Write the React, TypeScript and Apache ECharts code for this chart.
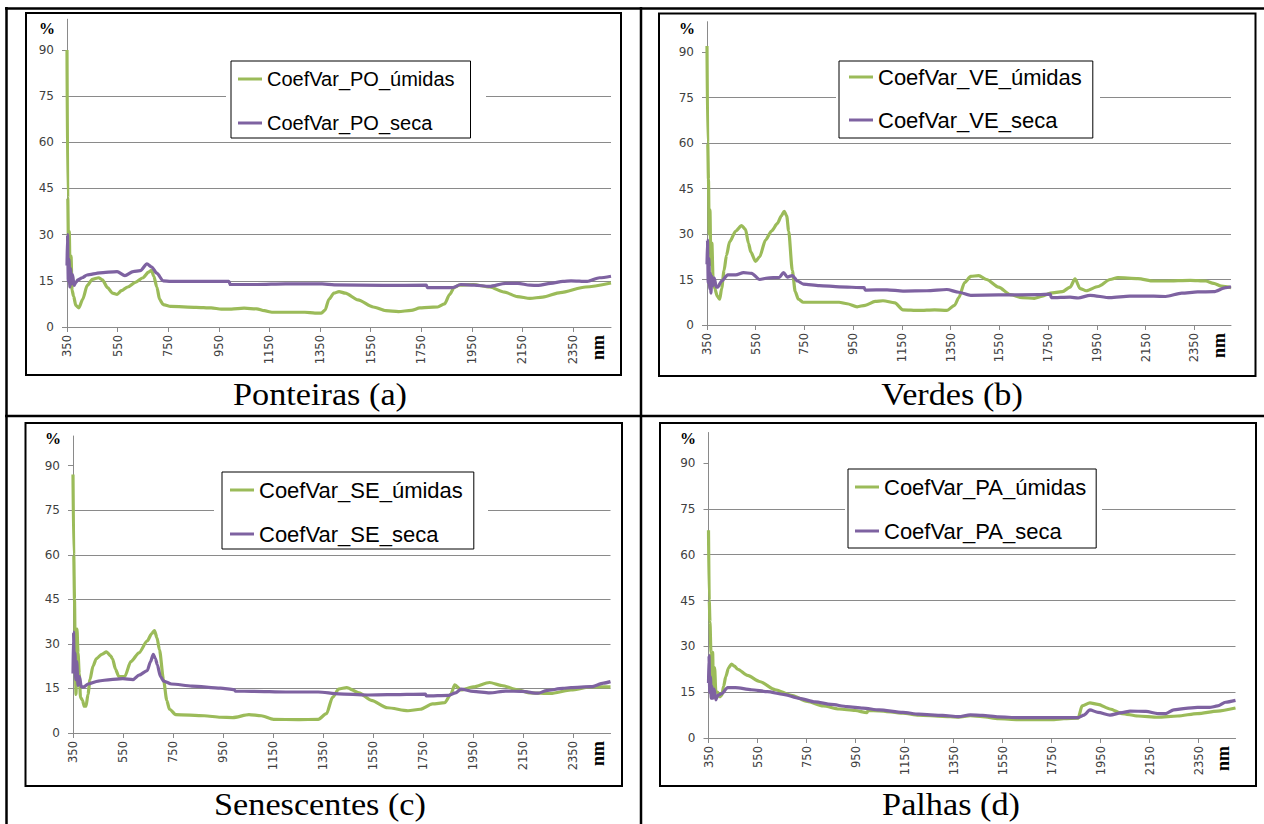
import React, { useEffect, useRef } from 'react';
import * as echarts from 'echarts';

const xTickValues = [350, 550, 750, 950, 1150, 1350, 1550, 1750, 1950, 2150, 2350];
const xUnitLabelAt = 2450;
const yTickValues = [0, 15, 30, 45, 60, 75, 90];
const captions = ['Ponteiras (a)', 'Verdes (b)', 'Senescentes (c)', 'Palhas (d)'];
const umidasNames = ['CoefVar_PO_úmidas', 'CoefVar_VE_úmidas', 'CoefVar_SE_úmidas', 'CoefVar_PA_úmidas'];
const secaNames = ['CoefVar_PO_seca', 'CoefVar_VE_seca', 'CoefVar_SE_seca', 'CoefVar_PA_seca'];

const poUmidas = [[350, 90], [353, 42], [356, 25], [359, 31], [362, 18], [366, 23], [370, 12], [376, 10], [385, 7], [397, 6.2], [412, 9], [430, 13.5], [450, 15.5], [475, 16], [490, 15.3], [510, 12.8], [530, 11], [548, 10.6], [565, 11.8], [590, 13], [620, 14.5], [650, 16], [672, 17.8], [684, 18.4], [693, 16.5], [705, 13], [716, 9], [730, 7.3], [760, 6.7], [860, 6.4], [920, 6.2], [960, 5.8], [1000, 5.8], [1050, 6.1], [1100, 5.9], [1130, 5.3], [1160, 4.8], [1220, 4.8], [1290, 4.8], [1330, 4.5], [1355, 4.5], [1370, 5.5], [1385, 9], [1405, 11], [1425, 11.5], [1450, 11], [1500, 8.8], [1560, 6.5], [1610, 5.3], [1660, 5], [1710, 5.4], [1745, 6.2], [1780, 6.4], [1815, 6.5], [1842, 7.5], [1862, 10.5], [1880, 12.8], [1900, 13.6], [1955, 13.8], [2020, 13], [2080, 11.3], [2130, 9.9], [2180, 9.3], [2230, 9.7], [2300, 11.2], [2400, 13], [2500, 14.3]];
const poSeca = [[350, 20], [352, 30], [355, 15], [358, 22], [361, 13], [364, 19], [368, 14], [372, 17], [378, 13.5], [385, 14.5], [393, 15.3], [410, 16], [429, 16.9], [480, 17.6], [548, 18], [579, 16.7], [611, 18], [640, 18.3], [666, 20.5], [685, 19.5], [705, 17.5], [730, 15], [760, 14.8], [900, 14.8], [990, 14.8], [995, 13.8], [1100, 13.8], [1213, 14], [1358, 14], [1406, 13.7], [1600, 13.5], [1770, 13.6], [1774, 12.8], [1874, 12.8], [1906, 13.8], [1960, 13.6], [2019, 13.2], [2084, 14.2], [2132, 14.2], [2180, 13.6], [2213, 13.5], [2261, 14.2], [2310, 14.8], [2342, 15], [2406, 14.8], [2455, 16], [2500, 16.5]];

const veUmidas = [[350, 92], [353, 60], [356, 48], [359, 30], [362, 38], [366, 20], [370, 27], [375, 15], [382, 12], [392, 9.5], [402, 8.5], [410, 12], [420, 18], [430, 23], [443, 27.5], [468, 31], [492, 32.8], [508, 31.5], [520, 27], [530, 24], [549, 21], [566, 22.5], [590, 28], [615, 31], [639, 33.5], [655, 36], [667, 37.5], [677, 36], [685, 31], [700, 18], [712, 11], [725, 8.5], [745, 7.5], [800, 7.5], [892, 7.5], [925, 7], [966, 6], [999, 6.5], [1040, 7.8], [1072, 8], [1121, 7.3], [1154, 5], [1219, 4.8], [1284, 5], [1334, 4.8], [1366, 6.5], [1383, 9], [1407, 14], [1432, 16], [1465, 16.3], [1497, 15], [1546, 12.5], [1595, 10], [1644, 9], [1693, 8.8], [1726, 9.5], [1759, 10.5], [1808, 11], [1840, 12.5], [1860, 15.2], [1881, 12], [1906, 11.3], [1955, 12.7], [2004, 15], [2036, 15.6], [2118, 15.3], [2183, 14.5], [2232, 14.5], [2333, 14.7], [2396, 14.5], [2429, 13.7], [2461, 12.8], [2500, 12.3]];
const veSeca = [[350, 20], [352, 28], [355, 14], [358, 22], [361, 12], [364, 17], [366, 10.5], [370, 16], [375, 13], [380, 15.5], [388, 12.5], [394, 12.5], [410, 14.5], [435, 16.5], [468, 16.5], [500, 17.3], [533, 17], [566, 15], [598, 15.5], [647, 15.7], [664, 17.3], [680, 15.8], [700, 16.3], [721, 14.5], [745, 13.5], [811, 13], [893, 12.6], [995, 12.3], [999, 11.5], [1089, 11.6], [1154, 11.2], [1252, 11.3], [1334, 11.7], [1383, 10.8], [1432, 9.8], [1546, 9.9], [1710, 10], [1759, 10.2], [1762, 9], [1840, 9.2], [1873, 8.9], [1922, 9.8], [2004, 9], [2085, 9.5], [2183, 9.5], [2232, 9.4], [2298, 10.5], [2363, 10.9], [2429, 11], [2478, 12.3], [2500, 12.6]];

const seUmidas = [[350, 87], [353, 60], [356, 45], [359, 25], [362, 13], [366, 35], [370, 27], [375, 20], [380, 12], [388, 11], [395, 9], [402, 9], [410, 13], [418, 18], [430, 22.5], [443, 25], [465, 26.5], [484, 27.3], [500, 26], [508, 25], [520, 21.5], [533, 19], [557, 19], [581, 24], [614, 27], [647, 31], [665, 33.5], [676, 34.5], [686, 32], [696, 28], [712, 18], [725, 11], [736, 8], [761, 6.2], [875, 5.8], [940, 5.3], [989, 5.2], [1054, 6.2], [1103, 5.8], [1152, 4.6], [1250, 4.5], [1331, 4.6], [1364, 6.5], [1388, 12], [1413, 14.8], [1445, 15.3], [1494, 13.5], [1543, 11], [1608, 8.5], [1690, 7.5], [1739, 8], [1788, 9.8], [1837, 10.2], [1861, 13], [1877, 16.2], [1902, 14.5], [1951, 15.5], [2016, 17], [2065, 16], [2130, 14.5], [2179, 13.5], [2260, 13.3], [2342, 14.5], [2423, 15.5], [2500, 15.5]];
const seSeca = [[350, 20], [352, 34], [355, 22], [358, 27], [361, 18], [365, 24], [370, 16], [376, 19], [383, 15.5], [394, 15.5], [410, 16.5], [451, 17.5], [500, 18], [549, 18.3], [590, 18], [614, 19.5], [647, 21], [660, 24], [671, 26.5], [680, 25], [687, 23], [700, 19], [712, 17.5], [744, 16.5], [826, 15.8], [940, 15.1], [995, 14.6], [999, 14.1], [1070, 14], [1201, 13.8], [1331, 13.8], [1413, 13.2], [1527, 12.8], [1608, 12.9], [1760, 13.1], [1763, 12.5], [1853, 12.7], [1880, 13.5], [1902, 14.8], [1951, 14], [2016, 13.5], [2081, 14.1], [2146, 14], [2211, 13.4], [2244, 14.3], [2309, 15], [2342, 15.3], [2423, 15.6], [2472, 16.8], [2500, 17.3]];

const paUmidas = [[350, 68], [353, 45], [356, 38], [360, 28], [364, 18], [367, 28], [370, 15], [375, 23], [380, 15], [387, 15], [395, 13.5], [404, 14], [412, 17], [420, 20], [432, 23], [444, 24.2], [456, 23.5], [469, 22.5], [509, 20.5], [558, 18.5], [623, 15.8], [688, 14], [753, 12], [818, 10.5], [883, 9.5], [948, 9], [997, 8.3], [1001, 9], [1046, 8.9], [1143, 8.1], [1208, 7.5], [1305, 7.1], [1370, 6.8], [1418, 7.3], [1468, 7], [1533, 6.3], [1614, 6], [1695, 6], [1760, 6], [1800, 6.3], [1858, 6.5], [1874, 10.5], [1906, 11.5], [1939, 11], [1988, 9.5], [2037, 8], [2102, 7.2], [2183, 6.8], [2264, 7.2], [2345, 8], [2427, 8.8], [2500, 9.8]];
const paSeca = [[350, 18], [352, 27], [355, 15], [358, 20], [361, 13], [364, 17], [368, 13], [373, 16], [380, 12.5], [388, 14], [404, 14.5], [428, 16.5], [460, 16.5], [525, 15.8], [590, 15.2], [655, 14.3], [720, 13], [785, 11.8], [850, 11], [915, 10.3], [980, 9.8], [1046, 9.2], [1143, 8.4], [1208, 7.8], [1305, 7.4], [1370, 7], [1418, 7.6], [1468, 7.4], [1533, 6.9], [1614, 6.7], [1695, 6.7], [1776, 6.7], [1858, 6.7], [1882, 7.5], [1906, 9.2], [1939, 8.4], [1988, 7.5], [2037, 8.3], [2070, 8.8], [2135, 8.7], [2183, 8], [2216, 8], [2248, 9.2], [2297, 9.7], [2345, 10], [2394, 10], [2427, 10.5], [2459, 11.7], [2500, 12.3]];

const umidasData = [poUmidas, veUmidas, seUmidas, paUmidas];
const secaData = [poSeca, veSeca, seSeca, paSeca];

const GREEN = '#9BBB59';
const PURPLE = '#7E62A1';
const AXIS_GRAY = '#8a8a8a';

// layout of each panel
const panels = [
  { grid: { left: 67, top: 19.2, width: 544, height: 307.8 }, frame: [26, 13, 621, 375], legend: { left: 231, top: 61, padding: [8, 16, 5, 7], fontSize: 20, gap: 24 }, white: [226, 56, 486, 139], caption: [320, 394], pct: [47, 28] },
  { grid: { left: 707, top: 21.7, width: 524, height: 303.3 }, frame: [659, 13.5, 1255.5, 376], legend: { left: 839, top: 61, padding: [5, 11, 7, 10], fontSize: 22, gap: 21 }, white: [836, 56, 1100, 141], caption: [952, 394], pct: [687, 28] },
  { grid: { left: 73, top: 436, width: 537.5, height: 297 }, frame: [25.5, 423, 622, 786], legend: { left: 222, top: 472, padding: [7, 11, 4, 8], fontSize: 22, gap: 22 }, white: [214, 466, 488, 551], caption: [320, 804], pct: [53, 438] },
  { grid: { left: 708.5, top: 432.5, width: 527, height: 305.5 }, frame: [660, 423, 1256, 786], legend: { left: 848, top: 469, padding: [7, 10, 6, 7], fontSize: 22, gap: 22 }, white: [845, 463, 1102, 553], caption: [951, 804], pct: [688, 438] },
];

export default function App() {
  const ref = useRef<HTMLDivElement>(null);
  useEffect(() => {
    document.body.style.margin = '0';
    if (!ref.current) return;
    const chart = echarts.init(ref.current, undefined, { renderer: 'svg' });

    const grid: any[] = [];
    const xAxis: any[] = [];
    const yAxis: any[] = [];
    const series: any[] = [];
    const legend: any[] = [];
    const graphic: any[] = [];

    panels.forEach((p, i) => {
      grid.push({ ...p.grid, containLabel: false });
      xAxis.push({
        gridIndex: i,
        type: 'value',
        min: 350,
        max: 2500,
        axisLine: { show: true, onZero: false, lineStyle: { color: AXIS_GRAY, width: 1 } },
        axisTick: { show: true, length: 5, customValues: xTickValues, lineStyle: { color: AXIS_GRAY } },
        axisLabel: {
          customValues: [...xTickValues, xUnitLabelAt],
          rotate: 90,
          margin: 8,
          fontSize: 11.5,
          fontFamily: 'DejaVu Sans',
          color: '#404040',
          formatter: (v: number) => (v === xUnitLabelAt ? '{nm|nm}' : String(v)),
          rich: { nm: { fontFamily: 'Liberation Serif', fontWeight: 'bold', fontSize: 18, color: '#000' } },
        },
        splitLine: { show: false },
      });
      yAxis.push({
        gridIndex: i,
        type: 'value',
        min: 0,
        max: 100,
        interval: 15,
        axisLine: { show: true, onZero: false, lineStyle: { color: AXIS_GRAY, width: 1 } },
        axisTick: { show: true, length: 5, customValues: yTickValues, lineStyle: { color: AXIS_GRAY } },
        axisLabel: { customValues: yTickValues, margin: 13, fontSize: 12, fontFamily: 'DejaVu Sans', color: '#404040' },
        splitLine: { show: true, showMaxLine: false, lineStyle: { color: AXIS_GRAY, width: 1 } },
      });
      series.push({
        name: umidasNames[i], type: 'line', xAxisIndex: i, yAxisIndex: i, data: umidasData[i],
        showSymbol: false, smooth: 0.25, smoothMonotone: 'x', color: GREEN,
        lineStyle: { width: 3.2, color: GREEN }, z: 2,
      });
      series.push({
        name: secaNames[i], type: 'line', xAxisIndex: i, yAxisIndex: i, data: secaData[i],
        showSymbol: false, smooth: 0.25, smoothMonotone: 'x', color: PURPLE,
        lineStyle: { width: 3.2, color: PURPLE }, z: 2,
      });
      legend.push({
        data: [umidasNames[i], secaNames[i]],
        orient: 'vertical',
        left: p.legend.left,
        top: p.legend.top,
        padding: p.legend.padding,
        itemGap: p.legend.gap,
        itemWidth: 24,
        itemHeight: 3,
        icon: 'rect',
        selectedMode: false,
        borderColor: '#000',
        borderWidth: 1,
        backgroundColor: '#fff',
        textStyle: { fontFamily: 'Liberation Sans', fontSize: p.legend.fontSize, color: '#000' },
      });
      const [wx0, wy0, wx1, wy1] = p.white;
      graphic.push({ type: 'rect', z: 3, silent: true, shape: { x: wx0, y: wy0, width: wx1 - wx0, height: wy1 - wy0 }, style: { fill: '#fff' } });
      const [fx0, fy0, fx1, fy1] = p.frame;
      graphic.push({ type: 'rect', z: 10, silent: true, shape: { x: fx0, y: fy0, width: fx1 - fx0, height: fy1 - fy0 }, style: { fill: 'none', stroke: '#000', lineWidth: 2 } });
      graphic.push({ type: 'text', z: 10, silent: true, x: p.pct[0], y: p.pct[1], style: { text: '%', fontFamily: 'Liberation Serif', fontWeight: 'bold', fontSize: 16, fill: '#000', align: 'center', verticalAlign: 'middle' } });
      graphic.push({ type: 'text', z: 10, silent: true, x: p.caption[0], y: p.caption[1], scaleX: 1.07, style: { text: captions[i], fontFamily: 'Liberation Serif', fontSize: 32, fill: '#000', align: 'center', verticalAlign: 'middle' } });
    });

    // table rules
    const rule = (x1: number, y1: number, x2: number, y2: number) => ({
      type: 'line', z: 10, silent: true, shape: { x1, y1, x2, y2 }, style: { stroke: '#000', lineWidth: 2.5 },
    });
    graphic.push(rule(5, 8.5, 1264, 8.5));
    graphic.push(rule(6.5, 7, 6.5, 824));
    graphic.push(rule(641, 7, 641, 824));
    graphic.push(rule(5, 416, 1264, 416));

    chart.setOption({
      animation: false,
      backgroundColor: '#fff',
      grid, xAxis, yAxis, series, legend, graphic,
      tooltip: { show: false },
    });
    return () => chart.dispose();
  }, []);
  return <div ref={ref} style={{ position: 'relative', width: 1264, height: 824, background: '#fff' }} />;
}
